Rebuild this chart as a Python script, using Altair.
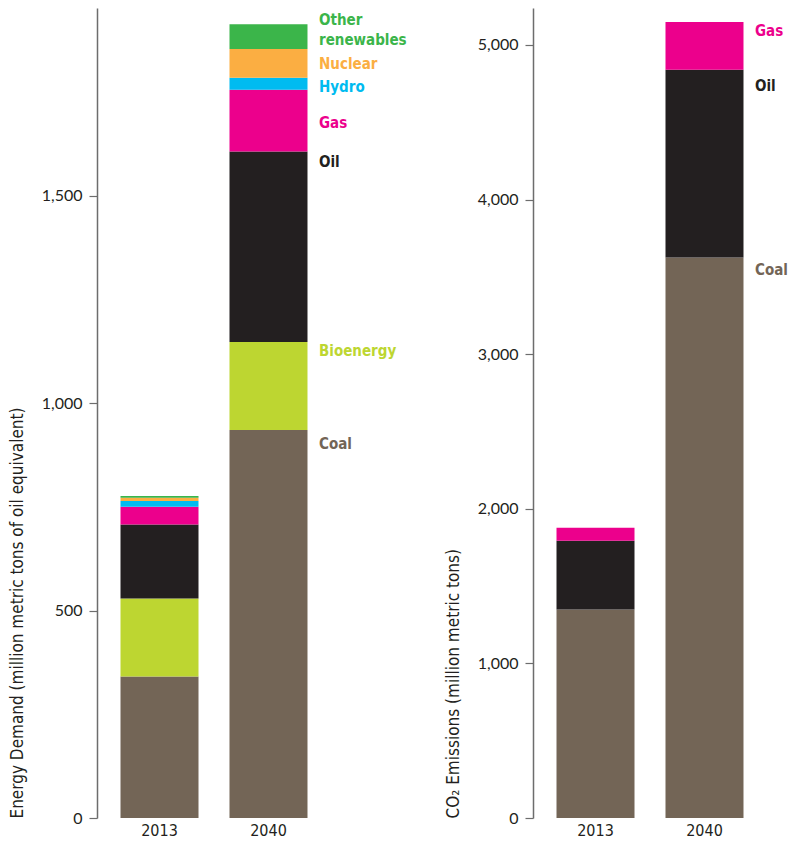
import altair as alt
import pandas as pd

years = ["2013", "2040"]

energy_sources = ["Coal", "Bioenergy", "Oil", "Gas", "Hydro", "Nuclear", "Other renewables"]
energy_2013 = [341, 188, 178, 43, 14, 8, 4]
energy_2040 = [935, 212, 459, 149, 29, 69, 60]
energy_ticks = [0, 500, 1000, 1500]

co2_sources = ["Coal", "Oil", "Gas"]
co2_2013 = [1348, 446, 83]
co2_2040 = [3626, 1213, 309]
co2_ticks = [0, 1000, 2000, 3000, 4000, 5000]

source_colors = {
    "Coal": "#736556",
    "Bioenergy": "#bdd631",
    "Oil": "#231f20",
    "Gas": "#ec008c",
    "Hydro": "#00bbf0",
    "Nuclear": "#fbae42",
    "Other renewables": "#3bb54a",
}
# label lines per source and the offset (px) of each line's top edge
# below the top of its 2040 segment
label_lines = {"Other renewables": ["Other", "renewables"]}
energy_label_dy = {"Coal": [7], "Bioenergy": [2], "Oil": [3], "Gas": [26],
                   "Hydro": [2], "Nuclear": [8], "Other renewables": [-11, 9]}
co2_label_dy = {"Coal": [6], "Oil": [9], "Gas": [2]}

NARROW = "Liberation Sans Narrow, DejaVu Sans Condensed, sans-serif"
TICKFONT = "Lato, sans-serif"
PLOT_H = 810


def make_frames(sources, v2013, v2040, dy, ymax):
    rows = []
    for yr, vals in zip(years, [v2013, v2040]):
        for i, (s, v) in enumerate(zip(sources, vals)):
            rows.append({"year": yr, "source": s, "value": v, "order": i})
    bars = pd.DataFrame(rows)
    labs = []
    top = 0
    for s, v in zip(sources, v2040):
        top += v
        for line, off in zip(label_lines.get(s, [s]), dy[s]):
            labs.append({"year": years[1], "source": s, "label": line,
                         "ypos": top - off * ymax / PLOT_H})
    return bars, pd.DataFrame(labs)


def panel(sources, v2013, v2040, dy, ticks, ymax, title):
    bars, lab = make_frames(sources, v2013, v2040, dy, ymax)
    cscale = alt.Scale(domain=sources, range=[source_colors[s] for s in sources])
    xscale = alt.Scale(paddingInner=0.275, paddingOuter=0.211)
    yscale = alt.Scale(domain=[0, ymax], nice=False, zero=True)
    base_x = alt.X("year:N", scale=xscale, sort=years,
                   axis=alt.Axis(title=None, domain=False, ticks=False, labelAngle=0,
                                 labelFont=NARROW, labelFontSize=16, labelPadding=4,
                                 labelColor="#231f20"))
    b = alt.Chart(bars).mark_bar(size=78).encode(
        x=base_x,
        y=alt.Y("value:Q", stack="zero", scale=yscale,
                axis=alt.Axis(values=ticks, format=",.0f", title=title, grid=False,
                              domainColor="#6d6d6d", domainWidth=1.5,
                              tickColor="#6d6d6d", tickWidth=1.2, tickSize=8,
                              labelFont=TICKFONT, labelFontSize=16, labelColor="#231f20",
                              labelPadding=7, titleFont=NARROW, titleFontSize=17,
                              titleFontWeight="normal", titleColor="#231f20",
                              titleAnchor="start", titlePadding=15)),
        color=alt.Color("source:N", scale=cscale, legend=None),
        order=alt.Order("order:Q", sort="ascending"),
    )
    t = alt.Chart(lab).mark_text(align="left", baseline="top", dx=11,
                                 font=NARROW, fontSize=15, fontWeight="bold").encode(
        x=alt.X("year:N", scale=xscale, sort=years, bandPosition=1),
        y=alt.Y("ypos:Q", scale=yscale),
        text="label:N",
        color=alt.Color("source:N", scale=cscale, legend=None),
    )
    return alt.layer(b, t).properties(width=234, height=PLOT_H)


left = panel(energy_sources, energy_2013, energy_2040, energy_label_dy,
             energy_ticks, 1952, "Energy Demand (million metric tons of oil equivalent)")
right = panel(co2_sources, co2_2013, co2_2040, co2_label_dy,
              co2_ticks, 5239, "CO₂ Emissions (million metric tons)")

chart = alt.hconcat(left, right, spacing=202, bounds="flush").properties(
    padding={"left": 0, "top": 0, "right": 0, "bottom": 0}
).configure_view(stroke=None)

chart.save("out.html", embed_options={"renderer": "svg", "actions": False})
